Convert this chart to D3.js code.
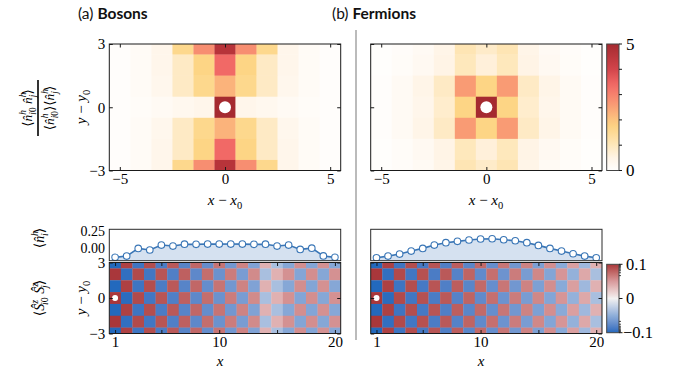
<!DOCTYPE html>
<html><head><meta charset="utf-8">
<script src="https://cdn.jsdelivr.net/npm/d3@7"></script>
<style>body{margin:0;background:#fff} svg{display:block}</style>
</head><body><svg id="c" width="674" height="375"></svg>
<script>
// ---------- data ----------
const corrX = [-5,-4,-3,-2,-1,0,1,2,3,4,5];
const corrY = [3,2,1,0,-1,-2,-3];
const bosonCorr = [
 [0.05,0.15,0.4,1.6,2.8,4.6,2.8,1.6,0.4,0.15,0.05],
 [0.05,0.15,0.4,0.9,1.7,3.4,1.7,0.9,0.4,0.15,0.05],
 [0.05,0.15,0.35,0.9,1.6,2.25,1.6,0.9,0.35,0.15,0.05],
 [0.05,0.1,0.2,0.3,0.4,5.5,0.4,0.3,0.2,0.1,0.05],
 [0.05,0.15,0.35,0.9,1.6,2.25,1.6,0.9,0.35,0.15,0.05],
 [0.05,0.15,0.4,0.9,1.7,3.4,1.7,0.9,0.4,0.15,0.05],
 [0.05,0.15,0.4,1.6,2.8,4.6,2.8,1.6,0.4,0.15,0.05]];
const fermionCorr = [
 [0.02,0.08,0.2,0.45,1.1,0.85,1.1,0.45,0.2,0.08,0.02],
 [0.02,0.1,0.25,0.5,1.0,0.65,1.0,0.5,0.25,0.1,0.02],
 [0.05,0.2,0.45,0.9,2.6,1.7,2.6,0.9,0.45,0.2,0.05],
 [0.05,0.2,0.4,0.8,1.7,5.5,1.7,0.8,0.4,0.2,0.05],
 [0.05,0.2,0.45,0.9,2.6,1.7,2.6,0.9,0.45,0.2,0.05],
 [0.02,0.1,0.25,0.5,1.0,0.65,1.0,0.5,0.25,0.1,0.02],
 [0.02,0.08,0.2,0.45,1.1,0.85,1.1,0.45,0.2,0.08,0.02]];
const corrTicks = [0,5];
const corrMinorTicks = [1,2,3,4];

const siteX = [1,2,3,4,5,6,7,8,9,10,11,12,13,14,15,16,17,18,19,20];
const bosonDensity = [-0.085,-0.07,0.022,0.003,0.062,0.05,0.072,0.07,0.074,0.073,0.074,0.073,0.07,0.072,0.05,0.062,0.01,0.025,-0.068,-0.085];
const fermionDensity = [-0.09,-0.07,-0.046,-0.01,0.022,0.062,0.09,0.106,0.122,0.134,0.137,0.125,0.113,0.09,0.058,0.022,-0.01,-0.042,-0.07,-0.09];
const densityTicks = [0,0.25];

const spinY = [3,2,1,0,-1,-2,-3];
const bosonSpin = [
 [-.1,.08,-.065,.06,-.05,.045,-.038,.032,-.027,.023,-.019,.016,-.013,.007,-.007,-.011,.012,-.012,.011,-.011],
 [.1,-.08,.065,-.06,.05,-.045,.038,-.032,.027,-.023,.019,-.016,.013,-.007,.007,.011,-.012,.012,-.011,.011],
 [-.1,.08,-.065,.06,-.05,.045,-.038,.032,-.027,.023,-.019,.016,-.013,.007,-.007,-.011,.012,-.012,.011,-.011],
 [.25,-.09,.065,-.06,.05,-.045,.038,-.032,.027,-.023,.019,-.016,.013,-.007,.007,.011,-.012,.012,-.011,.011],
 [-.1,.08,-.065,.06,-.05,.045,-.038,.032,-.027,.023,-.019,.016,-.013,.007,-.007,-.011,.012,-.012,.011,-.011],
 [.1,-.08,.065,-.06,.05,-.045,.038,-.032,.027,-.023,.019,-.016,.013,-.007,.007,.011,-.012,.012,-.011,.011],
 [-.1,.08,-.065,.06,-.05,.045,-.038,.032,-.027,.023,-.019,.016,-.013,.007,-.007,-.011,.012,-.012,.011,-.011]];
const fermionSpin = [
 [-.1,.08,-.065,.06,-.055,.05,-.045,.04,-.035,.03,-.026,.022,-.019,.016,-.014,.012,-.01,.009,-.008,.007],
 [.1,-.08,.065,-.06,.055,-.05,.045,-.04,.035,-.03,.026,-.022,.019,-.016,.014,-.012,.01,-.009,.008,-.007],
 [-.1,.08,-.065,.06,-.055,.05,-.045,.04,-.035,.03,-.026,.022,-.019,.016,-.014,.012,-.01,.009,-.008,.007],
 [.25,-.09,.065,-.06,.055,-.05,.045,-.04,.035,-.03,.026,-.022,.019,-.016,.014,-.012,.01,-.009,.008,-.007],
 [-.1,.08,-.065,.06,-.055,.05,-.045,.04,-.035,.03,-.026,.022,-.019,.016,-.014,.012,-.01,.009,-.008,.007],
 [.1,-.08,.065,-.06,.055,-.05,.045,-.04,.035,-.03,.026,-.022,.019,-.016,.014,-.012,.01,-.009,.008,-.007],
 [-.1,.08,-.065,.06,-.055,.05,-.045,.04,-.035,.03,-.026,.022,-.019,.016,-.014,.012,-.01,.009,-.008,.007]];
const spinTicks = [-0.1,0,0.1];
const spinMinorTicks = [-0.09,-0.08,-0.07,-0.06,-0.05,-0.04,-0.03,-0.02,0.02,0.03,0.04,0.05,0.06,0.07,0.08,0.09];
const siteTicks = [1,5,10,15,20];
const siteTickLabels = [1,10,20];

// ---------- helpers ----------
const svg = d3.select('#c');
const SERIF = '"Liberation Serif","Times New Roman","DejaVu Serif"';
const sans = '"Lato","Open Sans","DejaVu Sans"';
const fmtMinus = v => String(v).replace('-', '\u2212');
const INK = '#1a1a1a';

const corrColor = d3.scaleLinear()
  .domain([0,0.5,1.15,1.7,2.07,2.73,3.39,4.04,5])
  .range(["#fffefd","#fff4e6","#fee4b0","#fdd585","#fcc07e","#f89272","#f26a66","#d04349","#a52a30"])
  .clamp(true);

const LT = 0.01, LS = 1/(1-1/10);
function symlog(v){ const a=Math.abs(v), s=Math.sign(v); return a<=LT ? s*a/LT*LS : s*(LS+Math.log10(a/LT)); }
const spinMax = symlog(0.1);
const spinFrac = v => (Math.max(-1,Math.min(1,symlog(v)/spinMax))+1)/2;
const spinInterp = d3.scaleLinear().domain([0,0.25,0.5,0.75,1]).range(["#2369bd","#8eaed9","#f3f1f1","#d89a9c","#a9373b"]).interpolate(d3.interpolateLab);
const spinColor = v => spinInterp(spinFrac(v));

let clipN = 0;
function clipRect(x0,y0,x1,y1){
  const id='clip'+(clipN++);
  svg.append('clipPath').attr('id',id).append('rect').attr('x',x0).attr('y',y0).attr('width',x1-x0).attr('height',y1-y0);
  return id;
}

function heatmap(xs, ys, xVals, yVals, data, color){
  const [x0,x1]=xs.range(), [y1,y0]=ys.range();
  const id=clipRect(x0,y0,x1,y1);
  const g=svg.append('g').attr('clip-path',`url(#${id})`);
  const cells=[];
  data.forEach((row,i)=>row.forEach((v,j)=>cells.push({x:xVals[j],y:yVals[i],v})));
  g.selectAll('rect').data(cells).join('rect')
    .attr('x',d=>xs(d.x-0.5)).attr('y',d=>ys(d.y+0.5))
    .attr('width',d=>xs(d.x+0.5)-xs(d.x-0.5)+0.3)
    .attr('height',d=>ys(d.y-0.5)-ys(d.y+0.5)+0.3)
    .attr('fill',d=>color(d.v));
}

function frame(xs, ys, stroke){
  const [x0,x1]=xs.range(), [y1,y0]=ys.range();
  svg.append('rect').attr('x',x0).attr('y',y0).attr('width',x1-x0).attr('height',y1-y0)
    .attr('fill','none').attr('stroke',stroke||INK).attr('stroke-width',1);
}

function serifText(sel){ return sel.style('font-family',SERIF).attr('fill','#000'); }

function axes(xs, ys, opt){
  const [x0,x1]=xs.range(), [y1,y0]=ys.range();
  const style = g=>{ g.attr('font-family',null).attr('font-size',null);
    g.select('.domain').remove(); g.selectAll('line').attr('stroke',INK);
    serifText(g.selectAll('text')).style('font-size','15px'); };
  if(opt.xt){
    const fx = opt.xlab ? (v=> opt.xlab.includes(v)?fmtMinus(v):'') : (()=> '');
    svg.append('g').attr('transform',`translate(0,${y1})`)
      .call(d3.axisBottom(xs).tickValues(opt.xt).tickSize(-3.5).tickPadding(3).tickFormat(fx)).call(style);
    svg.append('g').attr('transform',`translate(0,${y0})`)
      .call(d3.axisTop(xs).tickValues(opt.xt).tickSize(-3.5).tickFormat(()=>'')).call(style);
  }
  if(opt.yt){
    svg.append('g').attr('transform',`translate(${x0},0)`)
      .call(d3.axisLeft(ys).tickValues(opt.yt).tickSize(-3.5).tickPadding(opt.ypad||4).tickFormat(opt.yfmt||(()=>''))).call(style);
    svg.append('g').attr('transform',`translate(${x1},0)`)
      .call(d3.axisRight(ys).tickValues(opt.yt).tickSize(-3.5).tickFormat(()=>'')).call(style);
  }
}

function mathText(parent, parts, size, x, y, anchor, rot){
  const t = serifText(parent.append('text')).style('font-size',size+'px')
    .attr('text-anchor',anchor||'middle')
    .attr('transform',`translate(${x},${y})`+(rot?` rotate(${rot})`:''));
  let cur=0, prevW=0;
  parts.forEach(p=>{
    const [s,k,it]=p;
    let target=0, fs=size, dx=0;
    if(k==='sup'){target=-0.42*size; fs=size*0.7;}
    if(k==='sub'){target=0.28*size; fs=size*0.7;}
    if(k==='subb'){target=0.28*size; fs=size*0.7; dx=-prevW;}
    const ts=t.append('tspan').attr('dy',target-cur).style('font-size',fs+'px').text(s);
    if(dx) ts.attr('dx',dx);
    if(it) ts.style('font-style','italic');
    cur=target; prevW=s.length*fs*0.5;
  });
  return t;
}

// ---------- top heatmaps ----------
const yTop = d3.scaleLinear().domain([-3,3]).range([170.5,44]);
const xTL = d3.scaleLinear().domain([-5.5,5.5]).range([109.3,340.7]);
const xTR = d3.scaleLinear().domain([-5.5,5.5]).range([370.7,602]);

heatmap(xTL,yTop,corrX,corrY,bosonCorr,corrColor);
heatmap(xTR,yTop,corrX,corrY,fermionCorr,corrColor);
[xTL,xTR].forEach(xs=>{
  svg.append('circle').attr('cx',xs(0)).attr('cy',yTop(0)).attr('r',6).attr('fill','#fff');
});
frame(xTL,yTop); frame(xTR,yTop);
axes(xTL,yTop,{xt:[-5,0,5],xlab:[-5,0,5],yt:[-3,0,3],yfmt:fmtMinus});
axes(xTR,yTop,{xt:[-5,0,5],xlab:[-5,0,5],yt:[-3,0,3]});

// top colorbar
const cbX0=606.7, cbX1=619;
const yCb = d3.scaleLinear().domain([0,5]).range([170.5,44]);
const defs = svg.append('defs');
const grad1 = defs.append('linearGradient').attr('id','g1').attr('x1',0).attr('x2',0).attr('y1',1).attr('y2',0);
d3.range(0,5.01,0.25).forEach(v=>grad1.append('stop').attr('offset',v/5).attr('stop-color',corrColor(v)));
svg.append('rect').attr('x',cbX0).attr('y',yCb(5)).attr('width',cbX1-cbX0).attr('height',yCb(0)-yCb(5))
  .attr('fill','url(#g1)').attr('stroke','#444').attr('stroke-width',1);
svg.append('g').selectAll('line').data(corrTicks.concat(corrMinorTicks)).join('line')
  .attr('x1',cbX1).attr('x2',cbX1+3).attr('y1',d=>yCb(d)).attr('y2',d=>yCb(d)).attr('stroke',INK);
serifText(svg.append('g').selectAll('text').data(corrTicks).join('text'))
  .attr('x',626).attr('y',d=>yCb(d)).attr('dy','0.33em').style('font-size','17px').text(d=>d);

// ---------- bottom line plots ----------
const yDen = d3.scaleLinear().domain([-0.125,0.25]).range([260.7,229.3]);
const xBL = d3.scaleLinear().domain([0.5,20.5]).range([109.3,340.7]);
const xBR = d3.scaleLinear().domain([0.5,20.5]).range([370.7,602]);
const blue = '#3a76b6';
function densityPlot(xs, vals){
  const [x0,x1]=xs.range();
  const id=clipRect(x0,229.3,x1,260.7);
  const g=svg.append('g').attr('clip-path',`url(#${id})`);
  const pts = siteX.map((x,i)=>({x,v:vals[i]}));
  g.append('path').datum(pts).attr('fill','#d5e1f0')
    .attr('d',d3.area().x(d=>xs(d.x)).y0(yDen(-0.125)).y1(d=>yDen(d.v)));
  g.append('path').datum(pts).attr('fill','none').attr('stroke',blue).attr('stroke-width',1.6)
    .attr('d',d3.line().x(d=>xs(d.x)).y(d=>yDen(d.v)));
  g.selectAll('circle').data(pts).join('circle').attr('cx',d=>xs(d.x)).attr('cy',d=>yDen(d.v))
    .attr('r',3.3).attr('fill','#fff').attr('stroke',blue).attr('stroke-width',1.1);
  frame(xs,yDen,'#2a2a2a');
}
densityPlot(xBL,bosonDensity);
densityPlot(xBR,fermionDensity);
serifText(svg.append('g').selectAll('text').data(densityTicks).join('text'))
  .attr('x',105).attr('y',d=>yDen(d)+(d===0.25?2:-2)).attr('dy','0.33em').attr('text-anchor','end')
  .style('font-size','14px').text(d=>d.toFixed(2));

// ---------- bottom heatmaps ----------
const ySp = d3.scaleLinear().domain([-3,3]).range([333.5,262.5]);
heatmap(xBL,ySp,siteX,spinY,bosonSpin,spinColor);
heatmap(xBR,ySp,siteX,spinY,fermionSpin,spinColor);
[xBL,xBR].forEach(xs=>{
  svg.append('circle').attr('cx',xs(1)).attr('cy',ySp(0)).attr('r',3).attr('fill','#fff');
});
frame(xBL,ySp); frame(xBR,ySp);
axes(xBL,ySp,{xt:siteTicks,xlab:siteTickLabels,yt:[-3,0,3],yfmt:fmtMinus,ypad:4});
axes(xBR,ySp,{xt:siteTicks,xlab:siteTickLabels,yt:[-3,0,3]});

// spin colorbar
const yCb2 = d3.scaleLinear().domain([-spinMax,spinMax]).range([332.7,264.3]);
const grad2 = defs.append('linearGradient').attr('id','g2').attr('x1',0).attr('x2',0).attr('y1',1).attr('y2',0);
d3.range(0,1.001,0.05).forEach(f=>grad2.append('stop').attr('offset',f).attr('stop-color',spinInterp(f)));
svg.append('rect').attr('x',cbX0).attr('y',yCb2(spinMax)).attr('width',cbX1-cbX0).attr('height',yCb2(-spinMax)-yCb2(spinMax))
  .attr('fill','url(#g2)').attr('stroke','#444').attr('stroke-width',1);
svg.append('g').selectAll('line').data(spinTicks).join('line')
  .attr('x1',cbX1).attr('x2',cbX1+3.5).attr('y1',d=>yCb2(symlog(d))).attr('y2',d=>yCb2(symlog(d))).attr('stroke',INK);
svg.append('g').selectAll('line').data(spinMinorTicks).join('line')
  .attr('x1',cbX1).attr('x2',cbX1+2).attr('y1',d=>yCb2(symlog(d))).attr('y2',d=>yCb2(symlog(d))).attr('stroke',INK).attr('stroke-width',0.8);
serifText(svg.append('g').selectAll('text').data(spinTicks).join('text'))
  .attr('x',626).attr('y',d=>yCb2(symlog(d))).attr('dy','0.33em').style('font-size','16.5px')
  .attr('dx',d=>d<0?-3:0).text(d=>fmtMinus(d));

// ---------- separator ----------
svg.append('line').attr('x1',356).attr('x2',356).attr('y1',30).attr('y2',340).attr('stroke','#aaa').attr('stroke-width',1.6);

// ---------- titles ----------
function title(x, a, b){
  const t=svg.append('text').attr('x',x).attr('y',19).style('font-family',sans).style('font-size','15.5px').attr('fill','#111');
  t.append('tspan').text(a+' ');
  t.append('tspan').style('font-weight','bold').text(b);
}
title(78,'(a)','Bosons');
title(332,'(b)','Fermions');

// ---------- axis labels ----------
const xlabelParts = [['x','n',1],[' \u2212 ','n'],['x','n',1],['0','sub']];
mathText(svg,xlabelParts,15,225,205,'middle');
mathText(svg,xlabelParts,15,486,205,'middle');
const ylabelParts = [['y','n',1],[' \u2212 ','n'],['y','n',1],['0','sub']];
mathText(svg,ylabelParts,15,86,107,'middle',-90);
mathText(svg,ylabelParts,15,86,298,'middle',-90);
mathText(svg,[['x','n',1]],15,220,366,'middle');
mathText(svg,[['x','n',1]],15,481,366,'middle');

// fraction label
const fr = svg.append('g').attr('transform','translate(38,108) rotate(-90)');
mathText(fr,[['\u27E8','n'],['n\u0302','n',1],['h','sup',1],['i','subb',1],['0','sub'],[' ','n'],['n\u0302','n',1],['h','sup',1],['j','subb',1],['\u27E9','n']],13.5,0,-6,'middle');
mathText(fr,[['\u27E8','n'],['n\u0302','n',1],['h','sup',1],['i','subb',1],['0','sub'],['\u27E9\u27E8','n'],['n\u0302','n',1],['h','sup',1],['j','subb',1],['\u27E9','n']],13.5,0,16,'middle');
fr.append('line').attr('x1',-28).attr('x2',28).attr('y1',0).attr('y2',0).attr('stroke','#000').attr('stroke-width',1.6);

mathText(svg,[['\u27E8','n'],['n\u0302','n',1],['h','sup',1],['i','subb',1],['\u27E9','n']],14,44,238,'middle',-90);
mathText(svg,[['\u27E8','n'],['S\u0302','n',1],['z','sup',1],['i','subb',1],['0','sub'],[' ','n'],['S\u0302','n',1],['z','sup',1],['j','subb',1],['\u27E9','n']],14,44,298,'middle',-90);
</script></body></html>
